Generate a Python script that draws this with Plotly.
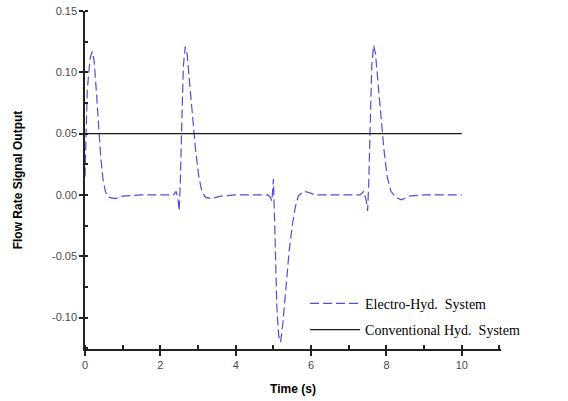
import plotly.graph_objects as go

# Electro-Hyd. System
eh_time = [0.00, 0.03, 0.06, 0.10, 0.14, 0.19, 0.24, 0.30, 0.36, 0.42, 0.48, 0.55, 0.65, 0.80, 1.00,
           1.50, 2.00, 2.35, 2.42, 2.47, 2.50, 2.53, 2.57, 2.61, 2.66, 2.71, 2.78, 2.86, 2.94, 3.02,
           3.10, 3.20, 3.35, 3.60, 4.00, 4.85, 4.92, 4.96, 5.00, 5.04, 5.09, 5.14, 5.19, 5.25, 5.33,
           5.42, 5.50, 5.58, 5.66, 5.80, 5.95, 6.10, 7.30, 7.40, 7.46, 7.50, 7.53, 7.57, 7.61, 7.66,
           7.71, 7.78, 7.86, 7.94, 8.02, 8.12, 8.25, 8.40, 8.60, 9.00, 10.00]
eh_values = [0.015, 0.050, 0.085, 0.100, 0.112, 0.117, 0.110, 0.085, 0.057, 0.030, 0.012, 0.002, -0.002, -0.003, -0.001,
             0.000, 0.000, 0.000, 0.003, -0.004, -0.013, 0.010, 0.060, 0.105, 0.121, 0.115, 0.090, 0.060, 0.035, 0.015,
             0.003, -0.002, -0.003, -0.001, 0.000, 0.000, -0.002, -0.005, 0.013, -0.030, -0.090, -0.115, -0.120, -0.105, -0.078,
             -0.045, -0.025, -0.010, -0.001, 0.003, 0.002, 0.000, 0.000, 0.003, -0.004, -0.013, 0.010, 0.060, 0.105, 0.122,
             0.115, 0.090, 0.060, 0.035, 0.015, 0.003, -0.002, -0.004, -0.001, 0.000, 0.000]

# Conventional Hyd. System
conv_time = [0.0, 10.0]
conv_values = [0.05, 0.05]

y_ticks = [-0.10, -0.05, 0.00, 0.05, 0.10, 0.15]
y_ticktext = ["-0.10", "-0.05", "0.00", "0.05", "0.10", "0.15"]
x_ticks = [0, 2, 4, 6, 8, 10]

fig = go.Figure()
fig.add_trace(go.Scatter(
    x=eh_time, y=eh_values, mode="lines", name="Electro-Hyd.  System",
    line=dict(color="#4f4fd6", width=1.2, dash="9px,4px"),
    legendgroup="a",
))
fig.add_trace(go.Scatter(
    x=conv_time, y=conv_values, mode="lines", name="Conventional Hyd.  System",
    line=dict(color="#1a1a1a", width=1.2),
    legendgroup="b",
))

axis_font = dict(family="Arial, Liberation Sans", size=11, color="#4a4a4a")
fig.update_layout(
    width=568, height=401,
    margin=dict(l=85, r=67, t=11, b=52, autoexpand=False),
    paper_bgcolor="white", plot_bgcolor="white",
    showlegend=True,
    legend=dict(
        x=0.529, y=0.181, xanchor="left", yanchor="top",
        font=dict(family="Liberation Serif, Times New Roman", size=14, color="black"),
        bgcolor="rgba(0,0,0,0)", traceorder="grouped", tracegroupgap=5,
        itemwidth=50,
    ),
    xaxis=dict(
        range=[0, 11.04], tickvals=x_ticks, ticks="outside", ticklen=5, tickwidth=2,
        tickcolor="#222", showline=True, linecolor="#222", linewidth=2,
        showgrid=False, zeroline=False, tickfont=axis_font, automargin=False,
        minor=dict(dtick=1, tick0=0, ticks="inside", ticklen=4, tickwidth=2, tickcolor="#222"),
        title=dict(text="<b>Time (s)</b>", font=dict(family="Arial, Liberation Sans", size=12, color="black"), standoff=14),
    ),
    yaxis=dict(
        range=[-0.1256, 0.15], tickvals=y_ticks, ticktext=y_ticktext, ticks="outside", ticklen=4, tickwidth=1.5,
        tickcolor="#222", showline=True, linecolor="#222", linewidth=1.5,
        showgrid=False, zeroline=False, tickfont=axis_font, automargin=False,
        minor=dict(dtick=0.025, tick0=0, ticks="inside", ticklen=3, tickwidth=1.5, tickcolor="#222"),
        title=dict(text="<b>Flow Rate Signal Output</b>", font=dict(family="Arial, Liberation Sans", size=12, color="black"), standoff=27),
    ),
)

fig.write_html("out.html", config={"displayModeBar": False},
               post_script="document.body.style.margin='0';")
